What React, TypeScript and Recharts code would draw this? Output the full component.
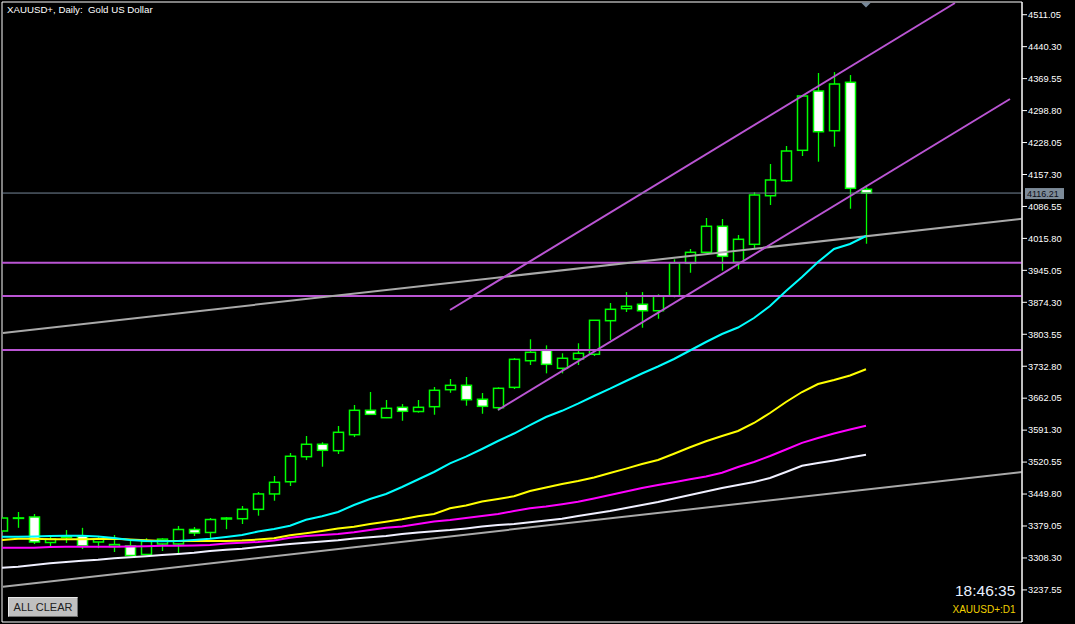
import {
  Bar,
  ComposedChart,
  Line,
  ReferenceArea,
  ReferenceDot,
  ReferenceLine,
  XAxis,
  YAxis,
} from "recharts";

// daily XAUUSD+ candles, oldest first
const opens = [
  3368.0, 3396.0, 3399.0, 3342.5, 3354.0, 3357.0, 3343.6, 3333.6, 3335.0, 3316.0,
  3339.2, 3339.2, 3371.3, 3364.7, 3394.5, 3395.2, 3416.0, 3450.0, 3477.0, 3532.5,
  3560.0, 3545.8, 3581.2, 3635.2, 3618.8, 3641.8, 3632.5, 3643.2, 3680.8, 3690.5,
  3659.6, 3641.0, 3686.0, 3745.0, 3768.0, 3728.2, 3748.8, 3759.2, 3833.6, 3860.2,
  3869.9, 3855.7, 3888.9, 3960.7, 3985.0, 4042.6, 3962.9, 4002.7, 4110.3, 4143.5,
  4210.8, 4342.1, 4254.2, 4361.4, 4124.5,
];
const highs = [
  3397.5, 3410.0, 3405.6, 3359.0, 3370.0, 3375.0, 3357.0, 3359.0, 3348.0, 3352.0,
  3352.0, 3379.0, 3376.8, 3396.7, 3399.0, 3423.3, 3454.3, 3489.8, 3540.7, 3578.3,
  3564.4, 3600.4, 3647.0, 3675.7, 3658.0, 3649.0, 3658.0, 3686.8, 3704.5, 3709.0,
  3673.5, 3686.0, 3751.0, 3792.4, 3779.0, 3761.4, 3783.6, 3835.0, 3872.8, 3897.0,
  3897.0, 3892.0, 3969.5, 3992.3, 4061.0, 4058.7, 4023.3, 4117.9, 4180.5, 4220.4,
  4333.3, 4382.0, 4384.0, 4377.5, 4133.4,
];
const lows = [
  3367.0, 3375.0, 3339.2, 3332.5, 3341.4, 3328.0, 3330.0, 3321.5, 3312.6, 3315.0,
  3323.7, 3319.0, 3356.9, 3352.5, 3372.0, 3383.5, 3401.9, 3435.0, 3467.6, 3525.0,
  3510.3, 3538.4, 3576.0, 3625.9, 3618.0, 3612.0, 3630.0, 3625.4, 3674.0, 3645.4,
  3627.6, 3635.0, 3682.4, 3735.5, 3717.0, 3717.0, 3735.5, 3755.4, 3790.8, 3852.8,
  3818.0, 3838.0, 3885.4, 3939.8, 3983.5, 3944.3, 3947.4, 3993.9, 4089.7, 4141.3,
  4198.2, 4185.6, 4218.8, 4081.5, 4004.0,
];
const closes = [
  3396.7, 3397.0, 3343.6, 3350.2, 3355.5, 3335.0, 3350.0, 3338.0, 3313.7, 3345.0,
  3350.0, 3371.3, 3363.5, 3393.4, 3396.7, 3416.0, 3450.0, 3475.8, 3533.4, 3560.0,
  3546.6, 3586.5, 3635.2, 3626.3, 3639.6, 3633.0, 3641.8, 3679.5, 3690.5, 3658.7,
  3644.0, 3683.9, 3748.1, 3763.6, 3737.0, 3750.4, 3761.4, 3834.5, 3858.8, 3865.5,
  3855.7, 3887.6, 3961.3, 3985.0, 4042.6, 3976.1, 4013.8, 4111.9, 4145.1, 4209.3,
  4331.1, 4252.0, 4357.6, 4126.7, 4116.21,
];

// moving averages
const maFast = [
  3355.3, 3355.3, 3355.8, 3356.9, 3357.6, 3357.6, 3355.8, 3352.5, 3348.0, 3345.8,
  3345.2, 3345.8, 3348.0, 3350.9, 3354.7, 3359.1, 3366.9, 3372.4, 3379.7, 3392.8,
  3400.5, 3410.0, 3425.5, 3438.8, 3449.9, 3465.4, 3482.0, 3498.6, 3517.9, 3532.5,
  3549.5, 3567.2, 3583.8, 3602.6, 3620.4, 3634.1, 3650.0, 3666.9, 3683.0, 3700.1,
  3716.7, 3732.2, 3748.8, 3767.6, 3786.4, 3804.1, 3818.5, 3839.5, 3866.1, 3899.3,
  3930.3, 3963.5, 3992.3, 4003.4, 4021.1,
];
const maMid = [
  3348.0, 3350.9, 3350.9, 3349.6, 3349.6, 3349.6, 3350.3, 3350.9, 3349.1, 3347.4,
  3345.8, 3345.8, 3345.8, 3345.8, 3345.8, 3346.9, 3349.1, 3352.0, 3358.4, 3362.9,
  3368.0, 3373.3, 3377.5, 3383.5, 3388.6, 3393.9, 3400.5, 3405.6, 3418.2, 3424.4,
  3433.3, 3438.8, 3444.8, 3456.5, 3464.1, 3472.0, 3478.7, 3486.6, 3496.4, 3506.1,
  3516.3, 3525.2, 3539.1, 3553.3, 3566.6, 3578.3, 3589.4, 3607.1, 3629.2, 3653.6,
  3675.7, 3693.4, 3702.3, 3712.2, 3726.0,
];
const maSlow = [
  3331.0, 3331.0, 3331.0, 3332.5, 3333.2, 3333.2, 3333.2, 3333.2, 3333.7, 3334.3,
  3335.2, 3335.4, 3336.1, 3337.0, 3340.3, 3341.8, 3343.6, 3346.9, 3353.1, 3356.9,
  3359.1, 3361.3, 3365.1, 3370.2, 3375.1, 3377.9, 3383.5, 3389.0, 3392.3, 3396.7,
  3401.2, 3405.6, 3412.2, 3418.2, 3422.2, 3427.1, 3432.8, 3439.9, 3447.7, 3455.4,
  3463.2, 3469.8, 3475.8, 3482.4, 3488.6, 3497.0, 3509.7, 3520.7, 3534.0, 3548.4,
  3563.2, 3573.9, 3583.8, 3592.7, 3601.1,
];
const maLong = [
  3286.7, 3288.9, 3292.7, 3296.5, 3299.3, 3302.2, 3304.4, 3307.5, 3309.7, 3311.9,
  3314.8, 3317.0, 3319.9, 3323.7, 3326.6, 3328.8, 3332.5, 3335.9, 3339.2, 3341.8,
  3344.7, 3347.6, 3351.4, 3354.0, 3356.9, 3361.3, 3364.6, 3367.5, 3370.2, 3373.7,
  3377.9, 3381.2, 3383.5, 3387.2, 3391.2, 3395.0, 3401.2, 3406.7, 3412.2, 3418.9,
  3425.5, 3432.2, 3439.9, 3447.7, 3455.4, 3463.2, 3469.8, 3476.5, 3485.3, 3498.6,
  3512.5, 3518.5, 3524.3, 3530.7, 3536.9,
];

const priceTicks = [
  3237.55, 3308.3, 3379.05, 3449.8, 3520.55, 3591.3, 3662.05, 3732.8, 3803.55,
  3874.3, 3945.05, 4015.8, 4086.55, 4157.3, 4228.05, 4298.8, 4369.55, 4440.3,
  4511.05,
];
const levels = [3962.0, 3888.3, 3768.7];
const lastPrice = 4116.21;
const upperChannel = [
  { x: 28, y: 3857.3 },
  { x: 59.56, y: 4537.0 },
];
const lowerChannel = [
  { x: 31, y: 3635.9 },
  { x: 63, y: 4324.4 },
];
const upperTrend = [
  { x: 0.06, y: 3806.3 },
  { x: 63.75, y: 4059.4 },
];
const lowerTrend = [
  { x: 0.06, y: 3244.6 },
  { x: 63.75, y: 3498.6 },
];

const X_DOMAIN: [number, number] = [0, 63.75];
const Y_DOMAIN: [number, number] = [3166.5, 4539.2];
const GREEN = "#00ff00";
const ORCHID = "#ba55d3";
const SLATE = "#778899";
const FONT = '"Liberation Sans", Arial, sans-serif';

const data = opens.map((open, i) => ({
  i,
  open,
  high: highs[i],
  low: lows[i],
  close: closes[i],
  range: [lows[i], highs[i]],
  fast: maFast[i],
  mid: maMid[i],
  slow: maSlow[i],
  long: maLong[i],
}));

function Candle(props: any) {
  const { x, y, width, height, payload } = props;
  const { open, close, high, low } = payload;
  const top = Math.min(y, y + height);
  const h = Math.abs(height);
  const toY = (v: number) => top + ((high - v) / (high - low)) * h;
  const cx = Math.round(x + width / 2) + 0.5;
  const yo = toY(open);
  const yc = toY(close);
  const bodyTop = Math.min(yo, yc);
  const bodyH = Math.max(Math.abs(yc - yo), 0.5);
  const up = close >= open;
  return (
    <g>
      <line x1={cx} x2={cx} y1={top} y2={top + h} stroke={GREEN} strokeWidth={1.3} />
      <rect
        x={cx - 5}
        y={bodyTop}
        width={10}
        height={bodyH}
        fill={up ? "#000" : "#fff"}
        stroke={GREEN}
        strokeWidth={1.5}
      />
    </g>
  );
}

function PriceTag(props: any) {
  const { viewBox } = props;
  const left = viewBox.x + viewBox.width + 3;
  return (
    <g>
      <rect x={left} y={viewBox.y - 5} width={39} height={11} fill="#7d8b99" />
      <text
        x={left + 2}
        y={viewBox.y + 4}
        fontSize={9}
        fontFamily={FONT}
        fill="#0b0b16"
      >
        {lastPrice.toFixed(2)}
      </text>
    </g>
  );
}

function ShiftMark(props: any) {
  const { cx, cy } = props;
  return (
    <path
      d={`M${cx - 5},${cy + 0.5} L${cx + 5},${cy + 0.5} L${cx},${cy + 5.5} Z`}
      fill={SLATE}
    />
  );
}

export default function App() {
  return (
    <div
      style={{
        position: "absolute",
        left: 0,
        top: 0,
        width: 1075,
        height: 624,
        background: "#000",
        fontFamily: FONT,
      }}
    >
      <ComposedChart
        width={1075}
        height={624}
        data={data}
        margin={{ top: 2, right: 0, bottom: 2, left: 2 }}
      >
        <XAxis
          dataKey="i"
          type="number"
          domain={X_DOMAIN}
          allowDataOverflow
          hide
        />
        <YAxis
          orientation="right"
          type="number"
          width={53}
          domain={Y_DOMAIN}
          allowDataOverflow
          ticks={priceTicks}
          interval={0}
          tickFormatter={(v) => Number(v).toFixed(2)}
          tick={{ fill: "#fff", fontSize: 9.3, fontFamily: FONT }}
          tickSize={5}
          tickMargin={1}
          axisLine={{ stroke: "#fff" }}
          tickLine={{ stroke: "#fff" }}
        />

        {levels.map((lv) => (
          <ReferenceLine key={lv} y={lv} stroke={ORCHID} strokeWidth={2} />
        ))}
        <ReferenceLine segment={upperTrend} stroke="#a9a9a9" strokeWidth={2} />
        <ReferenceLine segment={lowerTrend} stroke="#a9a9a9" strokeWidth={2} />

        <Bar
          dataKey="range"
          barSize={11}
          shape={Candle}
          isAnimationActive={false}
        />

        <Line type="linear" dataKey="long" stroke="#f0f0ff" strokeWidth={2} dot={false} isAnimationActive={false} />
        <Line type="linear" dataKey="slow" stroke="#ff00ff" strokeWidth={2} dot={false} isAnimationActive={false} />
        <Line type="linear" dataKey="mid" stroke="#ffff00" strokeWidth={2} dot={false} isAnimationActive={false} />
        <Line type="linear" dataKey="fast" stroke="#00ffff" strokeWidth={2} dot={false} isAnimationActive={false} />

        <ReferenceLine segment={upperChannel} stroke={ORCHID} strokeWidth={2} />
        <ReferenceLine segment={lowerChannel} stroke={ORCHID} strokeWidth={2} />
        <ReferenceLine y={lastPrice} stroke={SLATE} strokeWidth={1} label={PriceTag} />

        <ReferenceDot x={54} y={Y_DOMAIN[1]} shape={ShiftMark} />
        <ReferenceArea
          x1={X_DOMAIN[0]}
          x2={X_DOMAIN[1]}
          y1={Y_DOMAIN[0]}
          y2={Y_DOMAIN[1]}
          fill="none"
          stroke="#fff"
          strokeWidth={1}
        />
      </ComposedChart>

      <div
        style={{
          position: "absolute",
          left: 7,
          top: 4.7,
          fontSize: 9.7,
          lineHeight: 1,
          color: "#fff",
          whiteSpace: "pre",
        }}
      >
        {"XAUUSD+, Daily:  Gold US Dollar"}
      </div>

      <div
        style={{
          position: "absolute",
          left: 8,
          top: 597,
          width: 70,
          height: 20,
          boxSizing: "border-box",
          background: "#c0c0c0",
          borderTop: "1px solid #e8e8e8",
          borderLeft: "1px solid #e8e8e8",
          borderRight: "1px solid #707070",
          borderBottom: "1px solid #707070",
          color: "#202020",
          fontSize: 11,
          lineHeight: "18px",
          textAlign: "center",
        }}
      >
        ALL CLEAR
      </div>

      <div
        style={{
          position: "absolute",
          left: 955,
          top: 583,
          fontSize: 15.5,
          lineHeight: 1,
          color: "#e8f0ff",
        }}
      >
        18:46:35
      </div>
      <div
        style={{
          position: "absolute",
          left: 952.5,
          top: 604.7,
          fontSize: 10,
          lineHeight: 1,
          color: "#f0d000",
        }}
      >
        XAUUSD+:D1
      </div>
    </div>
  );
}
